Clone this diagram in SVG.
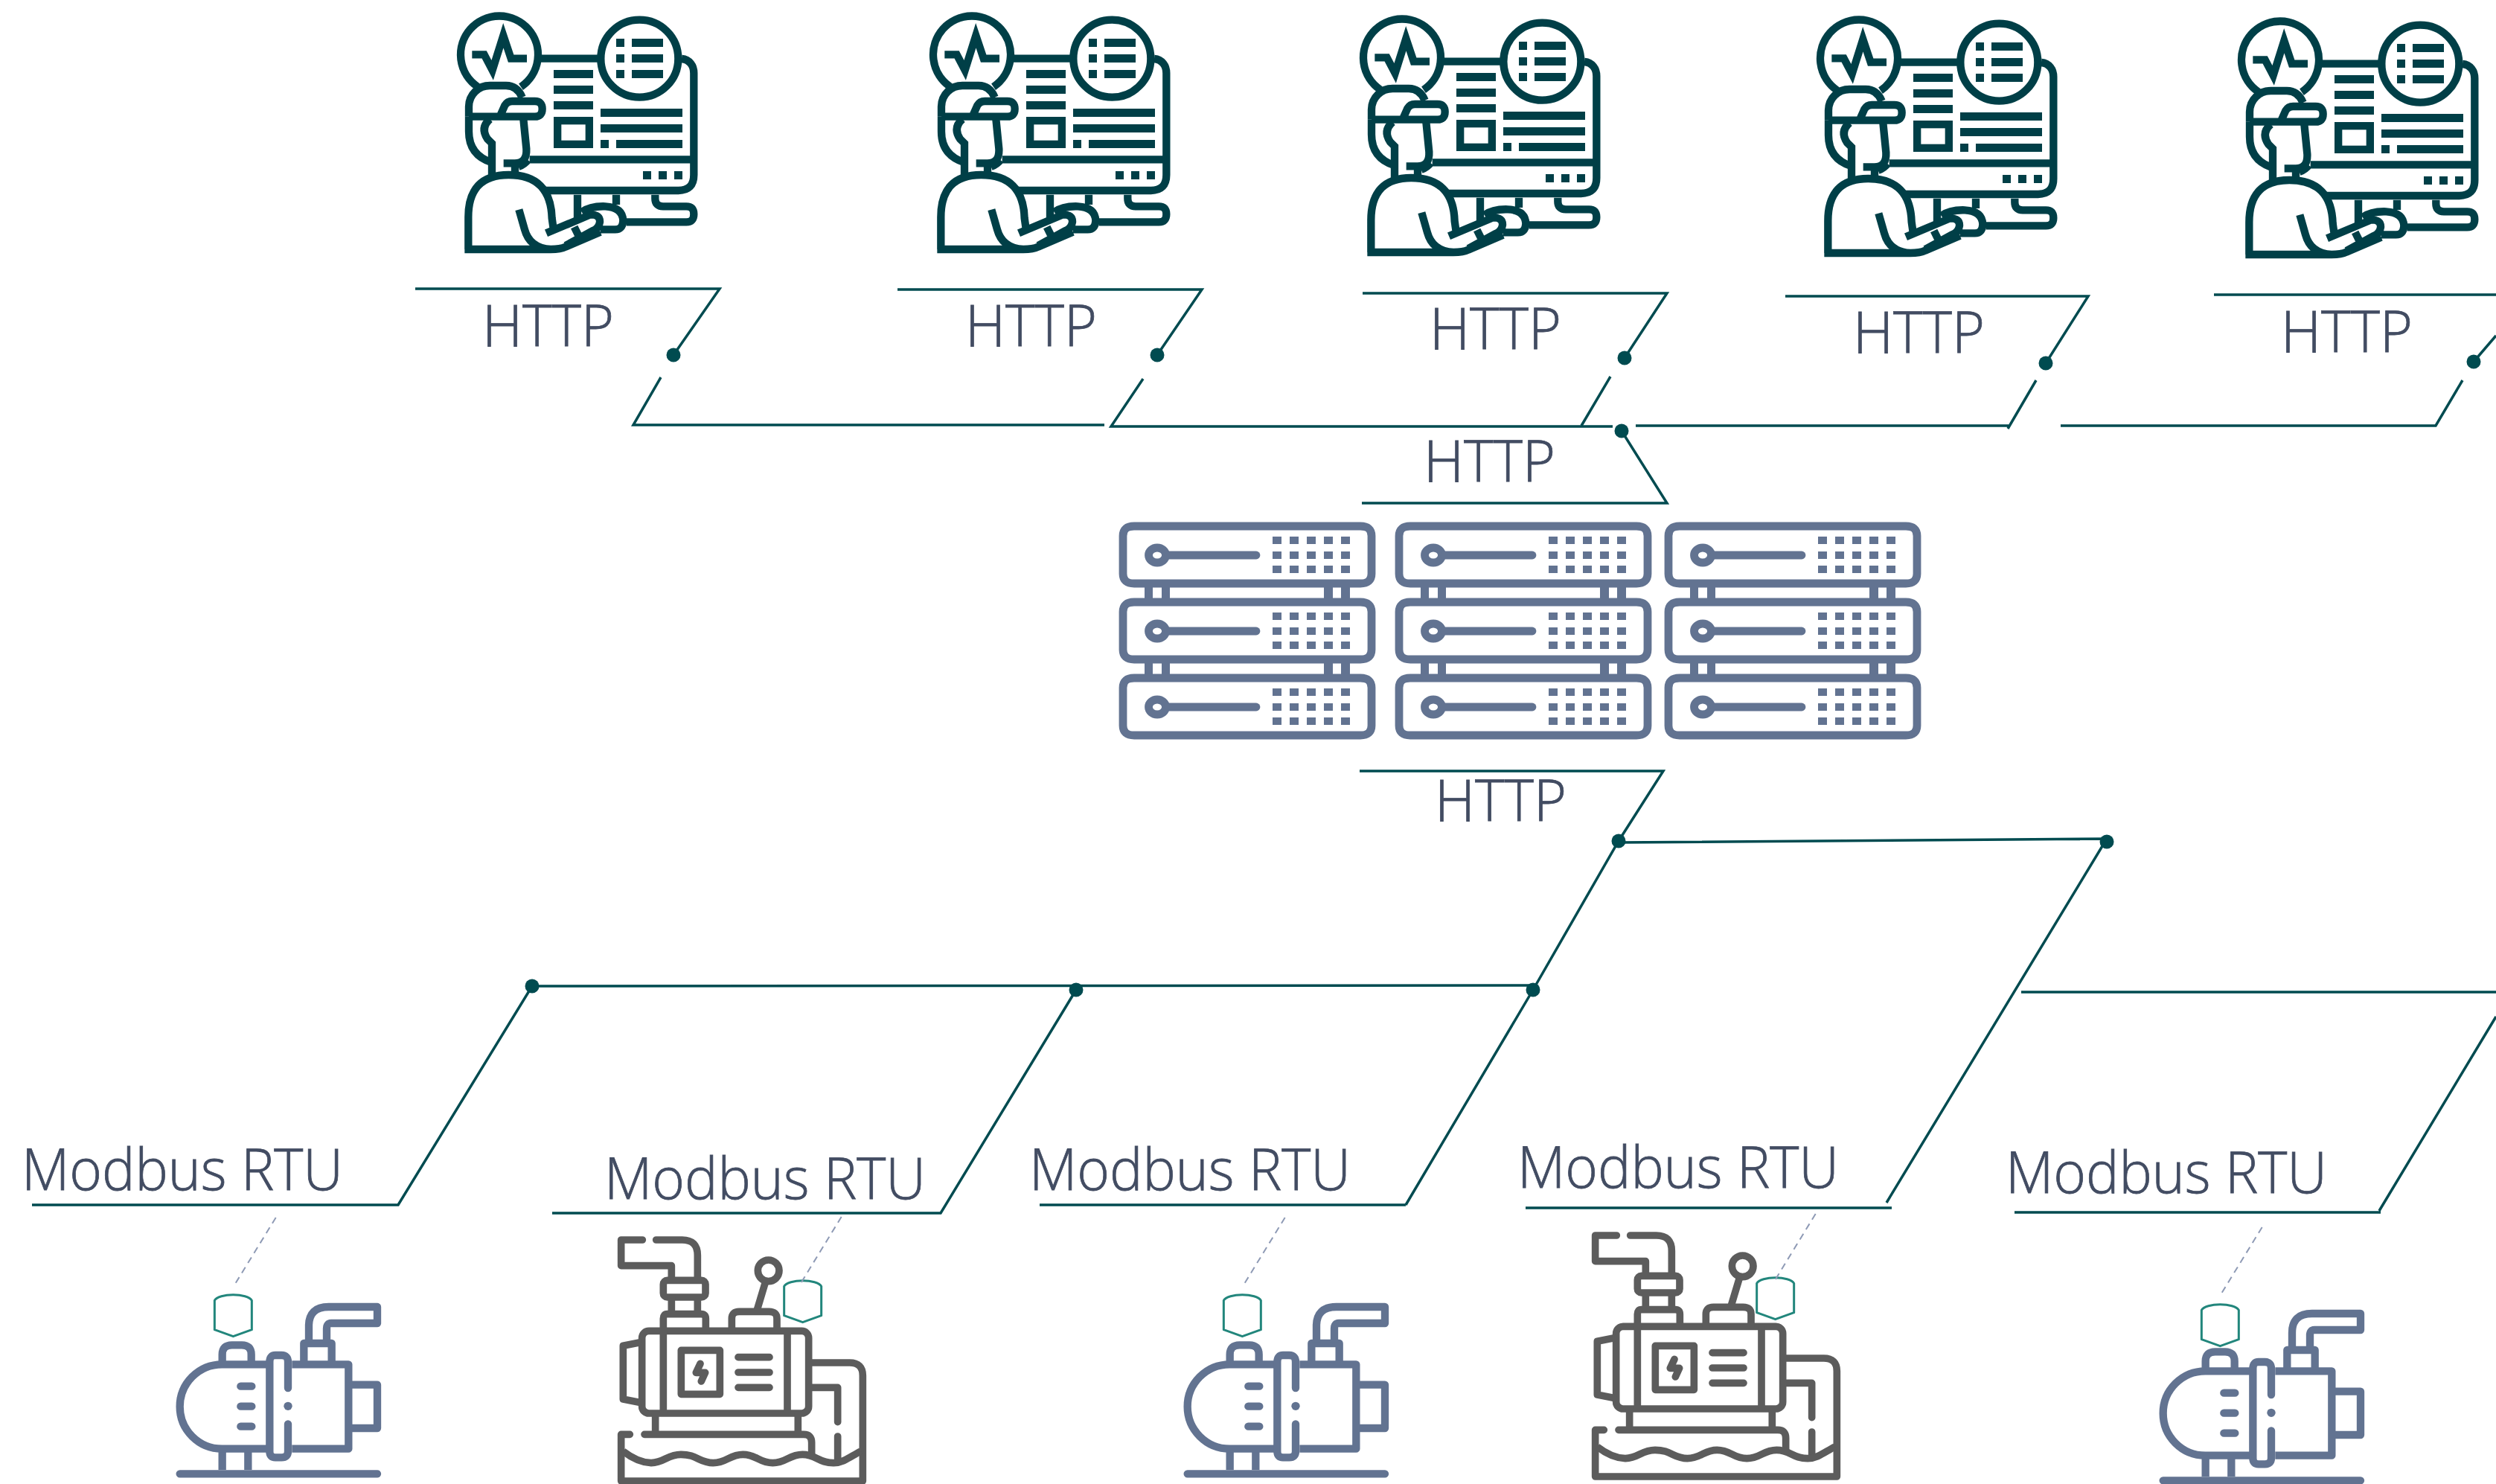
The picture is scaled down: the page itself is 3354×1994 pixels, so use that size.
<svg xmlns="http://www.w3.org/2000/svg" width="3354" height="1994" viewBox="0 0 3354 1994">
<style>
.t{font-family:"Open Sans","Liberation Sans",sans-serif;font-weight:300;font-size:77px;fill:#424c62;stroke:#424c62;stroke-width:.8px}
.c{fill:none;stroke:#004b50;stroke-width:3.500;stroke-linejoin:miter}
.d{fill:#004b50}
.op{fill:none;stroke:#003f47;stroke-width:31;stroke-linejoin:miter}
.opf{fill:#003f47}
.p{fill:none;stroke:#627391;stroke-width:31;stroke-linejoin:round;stroke-linecap:butt}
.pr{stroke-linecap:round}
.pf{fill:#627391}
.g{fill:none;stroke:#5c5c5c;stroke-width:29;stroke-linejoin:round;stroke-linecap:butt}
.gr{stroke-linecap:round}
.s{fill:none;stroke:#627391;stroke-width:10.800;stroke-linejoin:round}
.tag{fill:none;stroke:#22867c;stroke-width:9;stroke-linejoin:round}
.dash{fill:none;stroke:#8e9ab5;stroke-width:6;stroke-dasharray:27 20}
</style>
<defs>
<g id="operator" transform="scale(.33333)">
<path class="op" d="M186,350A156,156 0 1 1 360,350"/>
<circle class="op" cx="838" cy="236" r="156"/>
<path class="op" d="M430,236H680"/>
<path class="op" d="M163,220H212L245,283L289,143L320,236H384"/>
<path class="opf" d="M744,156h33v33h-33zM744,219h33v33h-33zM744,282h33v33h-33zM807,156h126v33h-126zM807,219h126v33h-126zM807,282h126v33h-126zM492,282h159v33h-159zM492,345h159v33h-159zM492,408h159v33h-159zM681,438h330v33h-330zM681,501h330v33h-330zM681,564h33v33h-33zM744,564h267v33h-267zM852,690h33v33h-33zM915,690h33v33h-33zM978,690h33v33h-33z"/>
<rect class="op" x="507.500" y="486.500" width="128" height="95"/>
<path class="op" d="M1008,237C1040,240 1057,265 1057,295V705Q1057,768 995,768H452"/>
<path class="op" d="M395,643H1057M350,672Q375,662 388,645"/>
<path class="op" d="M588,785V880M744,785V825M901,785V800Q901,832 933,832H1027Q1057,832 1057,863Q1057,895 1027,895H785"/>
<path class="op" d="M150,470V430C150,380 190,345 235,345H300Q345,345 365,392M150,470H416Q446,470 446,439Q446,408 416,408H325Q305,408 295,425L275,470"/>
<path class="op" d="M150,470V530Q150,625 243,655M370,480L382,600Q385,658 335,658H290M243,720V578L225,560Q195,515 235,480M336,660V700"/>
<path class="op" d="M148,1005V875Q148,705 310,705Q480,705 485,880L490,915M133,1005H480Q520,1005 540,995L680,935M352,845L375,925Q395,1000 480,1005M462,940L640,865Q680,865 678,895Q675,920 650,930L540,990M575,915L595,955M605,855Q640,830 700,832Q770,835 772,890Q770,925 740,925H680"/>
</g>
<g id="server-tier">
<path class="s" d="M1524,707H1828Q1843,707 1843,720V771Q1843,784 1828,784H1524Q1509,784 1509,771V720Q1509,707 1524,707Z"/>
<ellipse class="s" cx="1555" cy="746" rx="11.500" ry="10"/>
<path class="s" style="stroke-linecap:round" d="M1570,746H1688"/>
<path class="pf" d="M1710,721h12v10h-12zM1733,721h12v10h-12zM1756,721h12v10h-12zM1779,721h12v10h-12zM1802,721h12v10h-12zM1710,741h12v10h-12zM1733,741h12v10h-12zM1756,741h12v10h-12zM1779,741h12v10h-12zM1802,741h12v10h-12zM1710,760h12v10h-12zM1733,760h12v10h-12zM1756,760h12v10h-12zM1779,760h12v10h-12zM1802,760h12v10h-12z"/>
</g>
<g id="server">
<use href="#server-tier"/>
<use href="#server-tier" y="102"/>
<use href="#server-tier" y="204"/>
<path class="pf" d="M1538,789h11v15h-11zM1561,789h11v15h-11zM1779,789h12v15h-12zM1802,789h12v15h-12zM1538,891h11v15h-11zM1561,891h11v15h-11zM1779,891h12v15h-12zM1802,891h12v15h-12z"/>
</g>
<g id="pump" transform="scale(.33333)">
<path class="p pr" d="M125,1141H921M370,788H415M370,869H415M370,950H415"/>
<path class="p" d="M296,1040V1125M400,1040V1125"/>
<path class="p" d="M487,700H295A170,170 0 0 0 295,1040H487"/>
<path class="p pr" d="M561,795V690Q561,663 535,663H510Q487,663 487,690V1050Q487,1075 510,1075H535Q561,1075 561,1050V940"/>
<circle class="pf" cx="561" cy="868" r="17"/>
<path class="p" d="M577,700H805V1040H577M820,782H921V957H820"/>
<path class="p" d="M296,690V660Q296,622 335,622H375Q413,622 413,660V690M625,690V615H737V690"/>
<path class="p" d="M645,610V545Q645,468 725,468H921V534H735Q717,534 717,555V610"/>
</g>
<g id="generator" transform="scale(.33333)">
<path class="g gr" d="M250,198H164V302H367V360M305,198H410Q472,198 472,260V360"/>
<rect class="g" x="334" y="361" width="170" height="68" rx="16"/>
<path class="g" d="M367,430V497M472,430V497M334,565V515Q334,497 350,497H487Q505,497 505,515V565"/>
<rect class="g" x="248" y="565" width="672" height="332" rx="28"/>
<path class="g" d="M334,565V897M834,565V897M248,610L172,625V840L248,855"/>
<rect class="g" x="406" y="643" width="156" height="177"/>
<path class="g gr" d="M483,697L466,733H503L487,768M636,671H762M636,732H762M636,793H762"/>
<circle class="g" cx="758" cy="322" r="43"/>
<path class="g" d="M745,370L712,480M610,565V515Q610,487 640,487H760Q792,487 792,515V565M302,897V982M877,897V982"/>
<path class="g gr" d="M258,982H900Q932,982 932,1015V1060M199,982H164V1170H1138V745Q1138,693 1085,693H925M925,793H1037V932M1037,990V1080"/>
<path class="g" d="M172,1050Q230,1095 285,1097C340,1095 350,1063 405,1063C470,1063 480,1097 535,1097C590,1097 600,1063 655,1063C710,1063 720,1097 775,1097C830,1097 840,1063 895,1063C950,1063 960,1097 1020,1097C1060,1097 1090,1070 1130,1050"/>
</g>
<path id="tag" class="tag" d="M265,442C280,412 400,412 415,442V560L340,587L265,560Z"/>
</defs>
<g id="connectors">
<path class="c" d="M558,388H967L905,477M888,507L851,571H1484"/>
<path class="c" d="M1206,389H1615L1555,477M1536,509L1493,573H2167"/>
<path class="c" d="M1831,394H2240L2183,481M2164,506L2125,572"/>
<path class="c" d="M2198,572H2699M2399,398H2806L2749,488M2736,511L2698,576"/>
<path class="c" d="M2769,572H3273L3309,511M2975,396H3354M3354,451L3324,486"/>
<path class="c" d="M2179,579L2240,676H1830"/>
<path class="c" d="M1827,1036H2235L2175,1130L2060,1330L1889,1619"/>
<path class="c" d="M1397,1619H1889"/>
<path class="c" d="M2175,1132L2831,1127L2535,1616M2050,1623H2542"/>
<path class="c" d="M43,1619H535L715,1325L2060,1324"/>
<path class="c" d="M742,1630H1264L1446,1330"/>
<path class="c" d="M2716,1333H3354M3354,1366L3197,1627M2707,1629H3199"/>
<g class="d">
<circle cx="905" cy="477" r="9.500"/><circle cx="1555" cy="477" r="9.500"/><circle cx="2183" cy="481" r="9.500"/><circle cx="2749" cy="488" r="9.500"/><circle cx="3324" cy="486" r="9.500"/><circle cx="2179" cy="579" r="9.500"/><circle cx="2175" cy="1130" r="9.500"/><circle cx="2831" cy="1131" r="9.500"/><circle cx="2060" cy="1330" r="9.500"/><circle cx="1446" cy="1330" r="9.500"/><circle cx="715" cy="1325" r="9.500"/>
</g>
</g>
<g id="operator-1"><use href="#operator" transform="translate(580,0)"/></g>
<g id="operator-2"><use href="#operator" transform="translate(1215,0)"/></g>
<g id="operator-3"><use href="#operator" transform="translate(1793,4)"/></g>
<g id="operator-4"><use href="#operator" transform="translate(2407,5)"/></g>
<g id="operator-5"><use href="#operator" transform="translate(2973,7)"/></g>
<g id="server-1"><use href="#server"/></g>
<g id="server-2"><use href="#server" x="371"/></g>
<g id="server-3"><use href="#server" x="733"/></g>
<g id="pump-1"><use href="#pump" transform="translate(200,1600)"/><use href="#tag" transform="translate(200,1600) scale(.33333)"/><path class="dash" transform="translate(200,1600) scale(.33333)" d="M512,108L345,380"/></g>
<g id="generator-1"><use href="#generator" transform="translate(780,1600)"/><use href="#tag" transform="translate(780,1600) scale(.33333) translate(556,-57)"/><path class="dash" transform="translate(780,1600) scale(.33333)" d="M1052,105L885,378"/></g>
<g id="pump-2"><use href="#pump" transform="translate(1554,1600)"/><use href="#tag" transform="translate(1556,1600) scale(.33333)"/><path class="dash" transform="translate(1556,1600) scale(.33333)" d="M512,108L345,380"/></g>
<g id="generator-2"><use href="#generator" transform="translate(2089,1594)"/><use href="#tag" transform="translate(2087,1596) scale(.33333) translate(556,-57)"/><path class="dash" transform="translate(2089,1596) scale(.33333)" d="M1052,105L885,378"/></g>
<g id="pump-3"><use href="#pump" transform="translate(2865,1609)"/><use href="#tag" transform="translate(2870,1613) scale(.33333)"/><path class="dash" transform="translate(2869,1613) scale(.33333)" d="M512,108L345,380"/></g>
<g id="labels">
<text class="t" x="648" y="465" textLength="177" lengthAdjust="spacingAndGlyphs">HTTP</text>
<text class="t" x="1297" y="465" textLength="177" lengthAdjust="spacingAndGlyphs">HTTP</text>
<text class="t" x="1921" y="469" textLength="177" lengthAdjust="spacingAndGlyphs">HTTP</text>
<text class="t" x="2490" y="474" textLength="177" lengthAdjust="spacingAndGlyphs">HTTP</text>
<text class="t" x="3065" y="473" textLength="177" lengthAdjust="spacingAndGlyphs">HTTP</text>
<text class="t" x="1913" y="647" textLength="177" lengthAdjust="spacingAndGlyphs">HTTP</text>
<text class="t" x="1928" y="1103" textLength="177" lengthAdjust="spacingAndGlyphs">HTTP</text>
<text class="t" x="29" y="1599" textLength="432" lengthAdjust="spacingAndGlyphs">Modbus RTU</text>
<text class="t" x="812" y="1611" textLength="432" lengthAdjust="spacingAndGlyphs">Modbus RTU</text>
<text class="t" x="1383" y="1599" textLength="432" lengthAdjust="spacingAndGlyphs">Modbus RTU</text>
<text class="t" x="2039" y="1596" textLength="432" lengthAdjust="spacingAndGlyphs">Modbus RTU</text>
<text class="t" x="2695" y="1603" textLength="432" lengthAdjust="spacingAndGlyphs">Modbus RTU</text>
</g>
</svg>
